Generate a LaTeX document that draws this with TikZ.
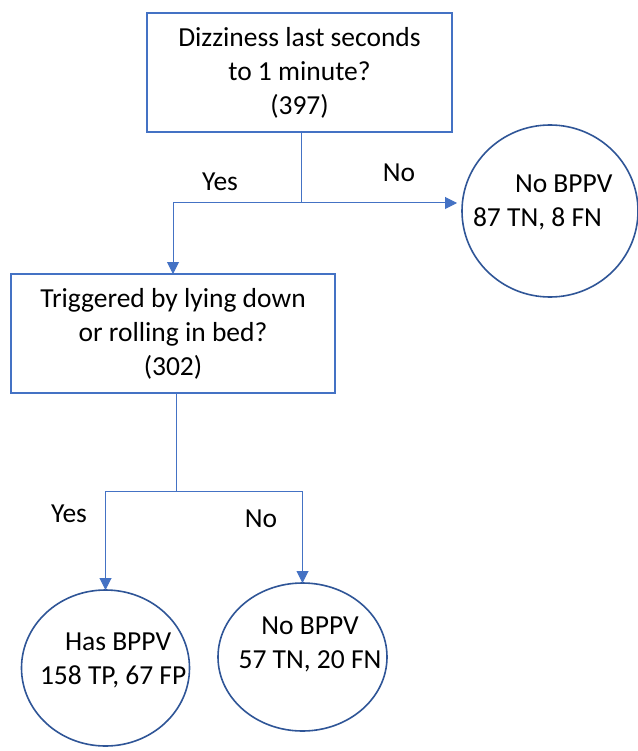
\documentclass[tikz,border=0pt]{standalone}
\usepackage{fontspec}
\setmainfont{Carlito}
\usetikzlibrary{arrows.meta,shapes.geometric}
\definecolor{boxblue}{HTML}{4472C4}
\definecolor{circblue}{HTML}{2F5597}
\definecolor{lineblue}{HTML}{4472C4}
\begin{document}
\begin{tikzpicture}[x=1pt,y=-1pt,
  every node/.style={font=\fontsize{27.5}{34}\selectfont, inner sep=0pt, outer sep=0pt},
  qbox/.style={draw=boxblue, line width=1.8pt, rectangle, minimum width=#1, minimum height=119pt, align=center},
  leaf/.style={draw=circblue, line width=1.6pt, ellipse},
  conn/.style={draw=lineblue, line width=1pt, -{Triangle[length=12pt,width=12pt]}},
  plainline/.style={draw=lineblue, line width=1pt}
]
\fill[white] (0,0) rectangle (637,751);
\useasboundingbox (0,0) rectangle (637,751);

\node[qbox=305pt] (top) at (299.5,72.5) {Dizziness last seconds\\to 1 minute?\\(397)};
\node[qbox=324pt] (box2) at (173,333.5) {Triggered by lying down\\or rolling in bed?\\(302)};

\node[leaf, minimum width=176pt, minimum height=172pt] (c1) at (550,211) {};
\node[leaf, minimum width=168pt, minimum height=156pt] (c3) at (105.5,668) {};
\node[leaf, minimum width=169pt, minimum height=148pt] (c4) at (302.5,657) {};

\node[anchor=west, align=left] (t1) at (473,202.5) {\hspace*{42pt}No BPPV\\87 TN, 8 FN};
\node[anchor=west, align=left] (t3) at (40,660.5) {\hspace*{25pt}Has BPPV\\158 TP, 67 FP};
\node[align=center] (t4) at (310,644.5) {No BPPV\\57 TN, 20 FN};

\node (yes1) at (220,182) {Yes};
\node (no1) at (399,173) {No};
\node (yes2) at (69,514) {Yes};
\node (no2) at (261,519) {No};

\coordinate (j1) at (301,203);
\draw[plainline] (top.south -| j1) -- (j1);
\draw[conn, shorten >=5pt] (j1) -- (j1 -| c1.west);
\draw[conn] (j1) -| (box2.north);

\coordinate (j2) at (176,491);
\draw[plainline] (box2.south -| j2) -- (j2);
\draw[conn] (j2) -| (c3.north);
\draw[conn] (j2) -| (c4.north);
\end{tikzpicture}
\end{document}
